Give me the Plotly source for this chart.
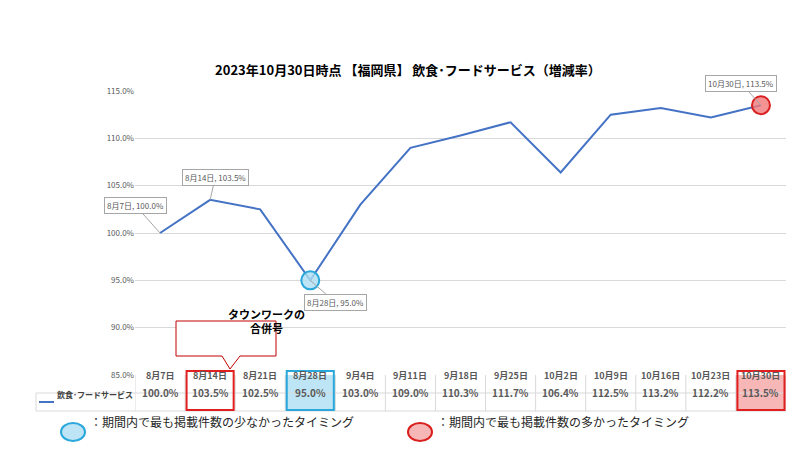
import plotly.graph_objects as go

categories = ["8月7日","8月14日","8月21日","8月28日","9月4日","9月11日","9月18日","9月25日","10月2日","10月9日","10月16日","10月23日","10月30日"]
values = [100.0,103.5,102.5,95.0,103.0,109.0,110.3,111.7,106.4,112.5,113.2,112.2,113.5]
series_name = "飲食･フードサービス"
ytick_vals = [85,90,95,100,105,110,115]

W, H = 800, 450
L, R, T, B = 127, 22, 83, 83
PW, PH = W - L - R, H - T - B
def px(x): return (x - L) / PW
def py(y): return (H - B - y) / PH
n = len(categories)

FONT = "Noto Sans CJK JP"
fig = go.Figure()
fig.add_trace(go.Scatter(x=list(range(n)), y=values, mode="lines",
                         line=dict(color="#4472C4", width=2), showlegend=False, hoverinfo="skip"))
mi, ma = values.index(min(values)), values.index(max(values))
fig.add_trace(go.Scatter(x=[mi], y=[values[mi]], mode="markers",
    marker=dict(size=18, color="rgba(173,222,242,0.8)", line=dict(color="#2AA7DB", width=2)), showlegend=False))
fig.add_trace(go.Scatter(x=[ma], y=[values[ma]], mode="markers",
    marker=dict(size=18, color="rgba(240,120,120,0.8)", line=dict(color="#D92020", width=2)), showlegend=False))

ann = []
shapes = []
lab = {0: (-25, -28), 1: (5, -22), 3: (25, 22), 12: (-20, -22)}
for i, (ax_, ay_) in lab.items():
    ann.append(dict(x=i, y=values[i], xref="x", yref="y", text=f"{categories[i]}, {values[i]:.1f}%",
        showarrow=True, arrowhead=0, arrowcolor="#A6A6A6", arrowwidth=1, ax=ax_, ay=ay_,
        font=dict(size=8, color="#595959", family=FONT), bgcolor="white",
        bordercolor="#A6A6A6", borderwidth=1, borderpad=2))

y0, y1, y2 = py(367), py(385), py(403)
grid = "#D9D9D9"
for i in range(n):
    if i == mi:
        shapes.append(dict(type="rect", xref="x", yref="paper", x0=i-0.5, x1=i+0.5, y0=y2, y1=y0,
                           fillcolor="#BDE5F5", line=dict(width=0), layer="below"))
    if i == ma:
        shapes.append(dict(type="rect", xref="x", yref="paper", x0=i-0.5, x1=i+0.5, y0=y2, y1=y0,
                           fillcolor="#F7B7B7", line=dict(width=0), layer="below"))
for i in range(n + 1):
    shapes.append(dict(type="line", xref="x", yref="paper", x0=i-0.5, x1=i-0.5, y0=y2, y1=y0,
                       line=dict(color=grid, width=1)))
shapes.append(dict(type="line", xref="paper", yref="paper", x0=px(28), x1=1, y0=y1, y1=y1, line=dict(color=grid, width=1)))
shapes.append(dict(type="line", xref="paper", yref="paper", x0=px(28), x1=1, y0=y2, y1=y2, line=dict(color=grid, width=1)))
shapes.append(dict(type="line", xref="paper", yref="paper", x0=px(28), x1=px(28), y0=y2, y1=y1, line=dict(color=grid, width=1)))
for i, c in [(1, "#E02020"), (mi, "#2AA7DB"), (ma, "#E02020")]:
    shapes.append(dict(type="rect", xref="x", yref="paper", x0=i-0.47, x1=i+0.47, y0=py(402), y1=py(363),
                       line=dict(color=c, width=2)))
for i in range(n):
    ann.append(dict(x=i, y=(y0+y1)/2, xref="x", yref="paper", text=f"<b>{categories[i]}</b>", showarrow=False,
                    font=dict(size=9, color="#595959", family=FONT)))
    ann.append(dict(x=i, y=(y1+y2)/2, xref="x", yref="paper", text=f"<b>{values[i]:.1f}%</b>", showarrow=False,
                    font=dict(size=10, color="#595959", family=FONT)))
shapes.append(dict(type="line", xref="paper", yref="paper", x0=px(31), x1=px(46), y0=(y1+y2)/2, y1=(y1+y2)/2,
                   line=dict(color="#4472C4", width=2)))
ann.append(dict(x=px(47), y=(y1+y2)/2, xref="paper", yref="paper", xanchor="left", text=f"<b>{series_name}</b>",
                showarrow=False, font=dict(size=8, color="#404040", family=FONT)))

x0c, x1c, yt, yb = px(168), px(268), py(313), py(348)
path = (f"M {x0c} {yt} L {x1c} {yt} L {x1c} {yb} L {px(232)} {yb} L {px(222)} {py(361)} "
        f"L {px(214)} {yb} L {x0c} {yb} Z")
shapes.append(dict(type="path", xref="paper", yref="paper", path=path, fillcolor="white",
                   line=dict(color="#C00000", width=1)))
ann.append(dict(x=px(218), y=py(330), xref="paper", yref="paper", text="<b>タウンワークの<br>合併号</b>",
                showarrow=False, font=dict(size=11, color="black", family=FONT)))

ly = py(424)
shapes.append(dict(type="circle", xref="paper", yref="paper", x0=px(53), x1=px(77), y0=py(433), y1=py(415),
                   fillcolor="#BDE5F5", line=dict(color="#2AA7DB", width=2)))
ann.append(dict(x=px(80), y=ly, xref="paper", yref="paper", xanchor="left", text="：期間内で最も掲載件数の少なかったタイミング",
                showarrow=False, font=dict(size=12, color="#262626", family=FONT)))
shapes.append(dict(type="circle", xref="paper", yref="paper", x0=px(400), x1=px(424), y0=py(433), y1=py(415),
                   fillcolor="#F7B7B7", line=dict(color="#D92020", width=2)))
ann.append(dict(x=px(427), y=ly, xref="paper", yref="paper", xanchor="left", text="：期間内で最も掲載件数の多かったタイミング",
                showarrow=False, font=dict(size=12, color="#262626", family=FONT)))

fig.update_layout(
    width=W, height=H, margin=dict(l=L, r=R, t=T, b=B, autoexpand=False),
    paper_bgcolor="white", plot_bgcolor="white",
    title=dict(text="<b>2023年10月30日時点 【福岡県】 飲食･フードサービス（増減率）</b>", x=0.5, xanchor="center",
               y=1 - 62/H, yanchor="middle", font=dict(size=13, color="black", family=FONT)),
    xaxis=dict(range=[-0.5, n - 0.5], showticklabels=False, showgrid=False, zeroline=False, automargin=False),
    yaxis=dict(range=[85, 115], tickvals=ytick_vals, ticktext=[f"{v:.1f}%" for v in ytick_vals],
               showgrid=True, gridcolor="#D9D9D9", zeroline=False, ticks="", automargin=False,
               tickfont=dict(size=8, color="#595959", family=FONT)),
    shapes=shapes, annotations=ann, font=dict(family=FONT),
)
fig.write_html("out.html")
